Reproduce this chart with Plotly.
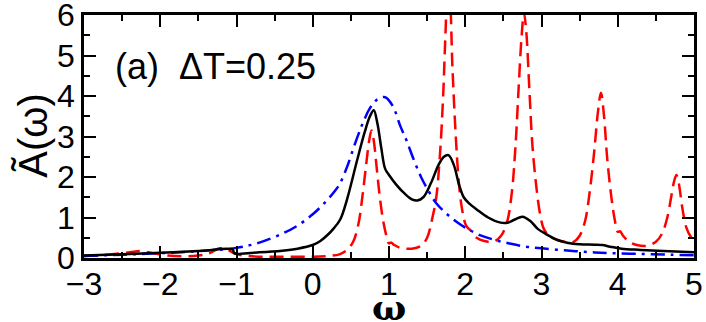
import plotly.graph_objects as go

# dashed red curve
red_x = [-3.0, -2.8, -2.6, -2.4, -2.25, -2.1, -1.9, -1.7, -1.5, -1.35, -1.22, -1.12, -1.0, -0.85,
         -0.6, -0.3, 0.0, 0.2, 0.35, 0.45, 0.53, 0.60, 0.65, 0.70, 0.74, 0.77, 0.80, 0.84, 0.88,
         0.93, 0.98, 1.00, 1.03, 1.07, 1.15, 1.30, 1.42, 1.50, 1.57, 1.62, 1.67, 1.71, 1.74, 1.77,
         1.80, 1.83, 1.87, 1.91, 1.95, 2.00, 2.03, 2.06, 2.15, 2.25, 2.37, 2.47, 2.55, 2.61, 2.66,
         2.70, 2.74, 2.77, 2.80, 2.84, 2.88, 2.93, 2.98, 3.03, 3.10, 3.20, 3.30, 3.42, 3.50, 3.57,
         3.63, 3.69, 3.74, 3.78, 3.82, 3.86, 3.91, 3.96, 4.00, 4.03, 4.07, 4.15, 4.25, 4.38, 4.50,
         4.58, 4.65, 4.70, 4.74, 4.77, 4.80, 4.85, 4.90, 4.95, 5.00]
red_y = [0.05, 0.07, 0.10, 0.14, 0.17, 0.12, 0.06, 0.04, 0.06, 0.12, 0.24, 0.20, 0.10, 0.05,
         0.03, 0.03, 0.03, 0.05, 0.09, 0.20, 0.40, 0.85, 1.5, 2.3, 2.9, 3.15, 2.9, 2.2, 1.5,
         0.85, 0.45, 0.36, 0.38, 0.32, 0.25, 0.23, 0.30, 0.5, 1.0, 1.5, 2.6, 4.0, 5.5, 6.6,
         6.3, 4.8, 3.2, 2.0, 1.3, 0.85, 0.75, 0.70, 0.50, 0.42, 0.40, 0.55, 0.9, 1.6, 2.8,
         4.2, 5.5, 6.05, 5.6, 4.2, 2.8, 1.8, 1.1, 0.72, 0.55, 0.45, 0.40, 0.40, 0.55, 0.9,
         1.6, 2.6, 3.6, 4.08, 3.5, 2.5, 1.6, 0.95, 0.65, 0.66, 0.55, 0.40, 0.32, 0.30, 0.40,
         0.60, 1.0, 1.5, 1.9, 2.05, 1.85, 1.2, 0.75, 0.55, 0.45]

# solid black curve
black_x = [-3.0, -2.5, -2.0, -1.5, -1.05, -1.03, -0.7, -0.4, -0.2, 0.0, 0.1, 0.2, 0.27, 0.36,
           0.45, 0.58, 0.68, 0.75, 0.80, 0.85, 0.90, 0.95, 1.0, 1.1, 1.2, 1.3, 1.37, 1.45, 1.55,
           1.65, 1.72, 1.78, 1.85, 1.92, 1.98, 2.05, 2.15, 2.3, 2.45, 2.55, 2.65, 2.75, 2.85,
           2.95, 3.05, 3.2, 3.35, 3.5, 3.7, 3.8, 3.9, 4.05, 4.3, 4.6, 5.0]
black_y = [0.06, 0.09, 0.13, 0.17, 0.21, 0.12, 0.14, 0.18, 0.23, 0.32, 0.42, 0.58, 0.72, 0.95,
           1.45, 2.4, 3.1, 3.5, 3.65, 3.3, 2.7, 2.2, 2.05, 1.8, 1.6, 1.45, 1.42, 1.5, 1.85,
           2.3, 2.5, 2.54, 2.3, 1.8, 1.5, 1.35, 1.2, 1.0, 0.88, 0.87, 0.95, 1.02, 0.92,
           0.72, 0.6, 0.45, 0.37, 0.34, 0.33, 0.32, 0.28, 0.23, 0.2, 0.17, 0.14]

# dash-dot blue curve
blue_x = [-3.0, -2.5, -2.0, -1.5, -1.0, -0.7, -0.4, -0.2, 0.0, 0.15, 0.3, 0.36, 0.45, 0.55,
          0.65, 0.75, 0.85, 0.95, 1.05, 1.15, 1.23, 1.32, 1.42, 1.52, 1.62, 1.75, 1.88, 2.0,
          2.2, 2.4, 2.6, 2.8, 3.0, 3.3, 3.6, 3.9, 4.3, 4.7, 5.0]
blue_y = [0.05, 0.08, 0.12, 0.17, 0.25, 0.38, 0.6, 0.8, 1.08, 1.35, 1.68, 1.85, 2.25, 2.8,
          3.3, 3.7, 3.92, 3.97, 3.75, 3.25, 2.9, 2.45, 2.0, 1.65, 1.35, 1.1, 0.9, 0.75,
          0.56, 0.44, 0.35, 0.28, 0.24, 0.19, 0.15, 0.12, 0.1, 0.08, 0.07]

fig = go.Figure()
fig.add_trace(go.Scatter(x=red_x, y=red_y, mode='lines', line_shape='spline',
                         line=dict(color='#ff0000', width=2.5, dash='14px,7px')))
fig.add_trace(go.Scatter(x=blue_x, y=blue_y, mode='lines', line_shape='spline',
                         line=dict(color='#0000ff', width=2.5, dash='14px,6px,3px,6px')))
fig.add_trace(go.Scatter(x=black_x, y=black_y, mode='lines', line_shape='spline',
                         line=dict(color='black', width=2.5)))

fig.add_annotation(x=-2.62, y=4.72, xref='x', yref='y', text='(a)  ΔT=0.25',
                   showarrow=False, xanchor='left', yanchor='middle',
                   font=dict(family='Liberation Sans', size=36, color='black'))

# axis titles as annotations so they can sit exactly where the reference has them
fig.add_annotation(x=0.5, y=-0.2, xref='paper', yref='paper', text='<b>ω</b>',
                   showarrow=False, xanchor='center', yanchor='middle',
                   font=dict(family='DejaVu Serif', size=36, color='black'))
fig.add_annotation(x=-0.084, y=0.506, xref='paper', yref='paper', text='Ã(ω)',
                   showarrow=False, xanchor='center', yanchor='middle', textangle=-90,
                   font=dict(family='Liberation Sans', size=40, color='black'))

axis_style = dict(showline=True, linewidth=2.5, linecolor='black', mirror='ticks',
                  ticks='inside', ticklen=12, tickwidth=2, tickcolor='black',
                  showgrid=False, zeroline=False, automargin=False,
                  ticklabeloverflow='allow',
                  tickfont=dict(family='Liberation Sans', size=32, color='black'))

fig.update_xaxes(range=[-3, 5], dtick=1, tick0=0, ticklabelstandoff=-4,
                 minor=dict(dtick=0.5, ticks='inside', ticklen=6, tickwidth=2, tickcolor='black'),
                 **axis_style)
fig.update_yaxes(range=[0, 6], dtick=1, tick0=0,
                 minor=dict(dtick=0.5, ticks='inside', ticklen=6, tickwidth=2, tickcolor='black'),
                 **axis_style)

fig.update_layout(width=706, height=322, showlegend=False,
                  plot_bgcolor='white', paper_bgcolor='white',
                  margin=dict(l=84, r=12, t=15, b=64))

# the page's default body margin would shift the figure by 8px
fig.write_html("out.html", config={'displayModeBar': False},
               post_script="document.body.style.margin='0px';"
               "document.body.style.overflow='hidden';")
